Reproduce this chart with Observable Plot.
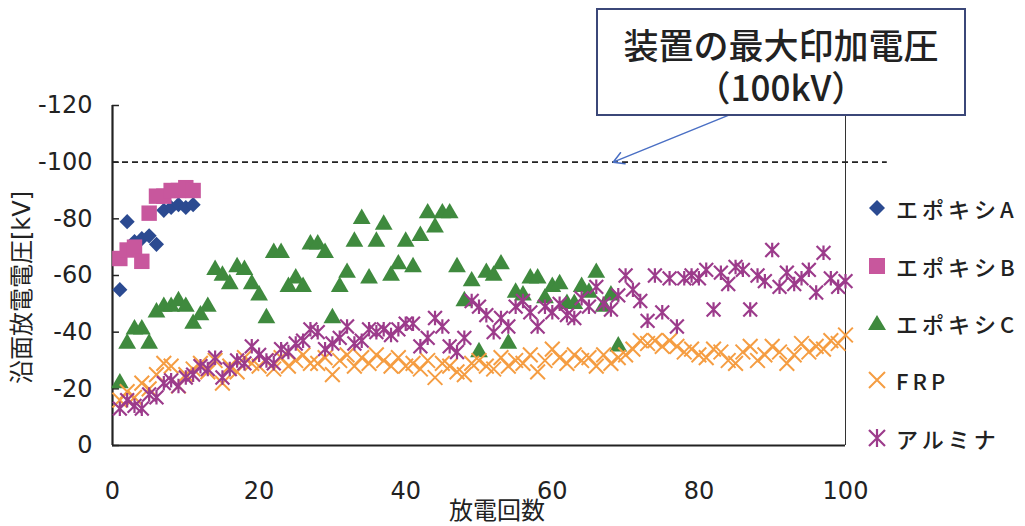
<!DOCTYPE html>
<html>
<head>
<meta charset="utf-8">
<script src="https://cdn.jsdelivr.net/npm/d3@7"></script>
<script src="https://cdn.jsdelivr.net/npm/@observablehq/plot@0.6"></script>
<style>
  body { margin: 0; background: #fff; }
  #wrap { position: relative; width: 1025px; height: 526px; overflow: hidden; color: #222; }
  #chart { position: absolute; left: 0; top: 0; }
  #callout {
    position: absolute; left: 596px; top: 8px; width: 370px; height: 108px;
    box-sizing: border-box; border: 2px solid #3b4778; background: #fff;
    font-family: "Noto Sans CJK JP", sans-serif; font-weight: 500; color: #222;
    font-size: 35px; line-height: 42px; text-align: center; white-space: pre-line;
    padding-top: 13px;
  }
  #legend { position: absolute; left: 866px; top: 0; font-family: "Noto Sans CJK JP", sans-serif; font-weight: 500; }
  .row { position: absolute; left: 0; height: 30px; display: flex; align-items: center; white-space: nowrap; }
  .row svg { width: 22px; height: 22px; margin-right: 8px; }
  .row span { font-size: 22px; letter-spacing: 4px; color: #222; }
</style>
</head>
<body>
<div id="wrap">
  <div id="chart"></div>
  <div id="callout"></div>
  <div id="legend"></div>
</div>
<script>
// Surface flashover voltage [kV] for each discharge number (1..100)
const seriesNames = ["エポキシA", "エポキシB", "エポキシC", "FRP", "アルミナ"];
const seriesColors = ["#2b4a91", "#c8579d", "#3f8a3e", "#f59d42", "#9c3b8b"];

const epoxyA = [-55, -79, -72, -73, -74, -71, -83, -84, -85, -84, -85];
const epoxyB = [-66, -69, -70, -65, -82, -88, -88, -90, -90, -91, -90];
const epoxyC = [
  -22, -36, -41, -41, -36, -47, -49, -49, -51, -49,
  -43, -46, -49, -62, -60, -57, -63, -62, -57, -53,
  -45, -68, -68, -56, -59, -56, -71, -71, -68, -45,
  -56, -61, -72, -80, -59, -72, -78, -60, -64, -72,
  -63, -74, -82, -77, -82, -82, -63, -51, -58, -33,
  -61, -60, -64, -36, -54, -53, -59, -59, -52, -56,
  -57, -50, -50, -56, -54, -61, -49, -53, -35
];
const frp = [
  -16, -19, -17, -22, -20, -25, -29, -28, -21, -25,
  -27, -29, -26, -30, -22, -28, -26, -31, -29, -28,
  -30, -27, -31, -28, -30, -32, -29, -29, -31, -25,
  -30, -32, -28, -31, -29, -32, -30, -28, -31, -28,
  -29, -27, -30, -24, -29, -28, -26, -25, -29, -30,
  -28, -27, -31, -28, -30, -29, -32, -26, -30, -34,
  -31, -29, -32, -30, -31, -28, -32, -29, -31, -32,
  -34, -37, -36, -37, -35, -37, -35, -33, -34, -32,
  -31, -34, -33, -30, -29, -33, -35, -30, -32, -35,
  -33, -29, -32, -36, -33, -35, -34, -37, -36, -39
];
const alumina = [
  -13, -16, -14, -13, -18, -17, -22, -23, -21, -24,
  -25, -28, -27, -31, -24, -27, -30, -29, -35, -32,
  -30, -29, -34, -33, -36, -37, -41, -40, -34, -36,
  -38, -42, -36, -37, -41, -40, -41, -39, -41, -43,
  -43, -35, -38, -45, -42, -35, -33, -38, -51, -49,
  -46, -40, -45, -42, -49, -51, -47, -42, -49, -47,
  -50, -46, -45, -52, -49, -56, -50, -48, -53, -60,
  -55, -51, -44, -60, -47, -59, -42, -59, -60, -59,
  -62, -48, -61, -57, -63, -62, -48, -60, -58, -69,
  -56, -61, -57, -59, -62, -54, -68, -59, -56, -58
];

const xTicks = [0, 20, 40, 60, 80, 100];
const yTicks = [0, -20, -40, -60, -80, -100, -120];
const maxVoltage = -100;           // device maximum applied voltage
const calloutText = "装置の最大印加電圧\n（100kV）";
const xTitle = "放電回数";
const yTitle = "沿面放電電圧[kV]";

const toRows = (values) => values.map((v, i) => ({n: i + 1, v}));

// Spreadsheet-style marker shapes
const timesSym = {
  draw(ctx, size) {
    const h = Math.sqrt(size) / 2;
    ctx.moveTo(-h, -h); ctx.lineTo(h, h);
    ctx.moveTo(-h, h); ctx.lineTo(h, -h);
  }
};
const starSym = {
  draw(ctx, size) {
    const h = Math.sqrt(size) / 2;
    ctx.moveTo(-h, -h); ctx.lineTo(h, h);
    ctx.moveTo(-h, h); ctx.lineTo(h, -h);
    ctx.moveTo(0, -h * 1.05); ctx.lineTo(0, h * 1.05);
  }
};

const chart = Plot.plot({
  width: 1025,
  height: 526,
  marginTop: 105,
  marginBottom: 81,
  marginLeft: 112,
  marginRight: 180,
  style: {fontFamily: "'DejaVu Sans', 'Noto Sans CJK JP', sans-serif", color: "#222", background: "transparent"},
  x: {domain: [0, 100]},
  y: {domain: [0, -120]},
  marks: [
    Plot.axisX({ticks: xTicks, tickSize: 0, tickPadding: 36, tickFormat: d => String(d), label: null, fontSize: 24}),
    Plot.axisY({ticks: yTicks, tickSize: 0, tickPadding: 20, tickFormat: d => String(d), label: null, fontSize: 24}),
    // inward tick marks on the value axis
    Plot.ruleY(yTicks, {x1: 0, x2: 0.95, stroke: "#222", strokeWidth: 1.5}),
    // frame lines
    Plot.ruleX([100], {stroke: "#333", strokeWidth: 1}),
    Plot.ruleX([0], {stroke: "#222", strokeWidth: 2.2}),
    Plot.ruleY([0], {stroke: "#222", strokeWidth: 2.2}),
    // maximum voltage reference line
    Plot.ruleY([maxVoltage], {x1: 0, x2: 105.7, stroke: "#222", strokeWidth: 1.6, strokeDasharray: "6,4"}),
    Plot.arrow([{x1: 84, y1: -116.5, x2: 68.3, y2: maxVoltage}], {
      x1: "x1", y1: "y1", x2: "x2", y2: "y2",
      stroke: "#4a6fc4", strokeWidth: 1.5, headLength: 12
    }),
    // series
    Plot.dot(toRows(epoxyA), {x: "n", y: "v", symbol: "diamond2", r: 6.8, fill: seriesColors[0]}),
    Plot.dot(toRows(epoxyB), {x: "n", y: "v", symbol: "square", r: 8.7, fill: seriesColors[1]}),
    Plot.dot(toRows(epoxyC), {x: "n", y: "v", symbol: "triangle", r: 6.6, fill: seriesColors[2]}),
    Plot.dot(toRows(frp), {x: "n", y: "v", symbol: timesSym, r: 8.3, fill: "none", stroke: seriesColors[3], strokeWidth: 2}),
    Plot.dot(toRows(alumina), {x: "n", y: "v", symbol: starSym, r: 7.8, fill: "none", stroke: seriesColors[4], strokeWidth: 2.2}),
    // axis titles
    Plot.text([yTitle], {frameAnchor: "left", textAnchor: "middle", rotate: -90, dx: -90, dy: 12, fontSize: 24, fill: "#222"}),
    Plot.text([xTitle], {frameAnchor: "bottom", lineAnchor: "middle", dx: 18, dy: 66, fontSize: 24, fill: "#222"})
  ]
});
document.getElementById("chart").appendChild(chart);
document.getElementById("callout").textContent = calloutText;

// legend
const legendShapes = [
  '<path d="M11,3 L19,11 L11,19 L3,11 Z" fill="' + seriesColors[0] + '"/>',
  '<rect x="3" y="3" width="16" height="16" fill="' + seriesColors[1] + '"/>',
  '<path d="M11,3 L20,18 L2,18 Z" fill="' + seriesColors[2] + '"/>',
  '<path d="M3,3 L19,19 M3,19 L19,3" stroke="' + seriesColors[3] + '" stroke-width="2" fill="none"/>',
  '<path d="M3,3 L19,19 M3,19 L19,3 M11,2 L11,20" stroke="' + seriesColors[4] + '" stroke-width="2.2" fill="none"/>'
];
const legendTops = [193, 251, 308, 365, 423];
const legend = document.getElementById("legend");
seriesNames.forEach((name, i) => {
  const row = document.createElement("div");
  row.className = "row";
  row.style.top = legendTops[i] + "px";
  row.innerHTML = '<svg viewBox="0 0 22 22">' + legendShapes[i] + '</svg><span>' + name + '</span>';
  legend.appendChild(row);
});
</script>
</body>
</html>
